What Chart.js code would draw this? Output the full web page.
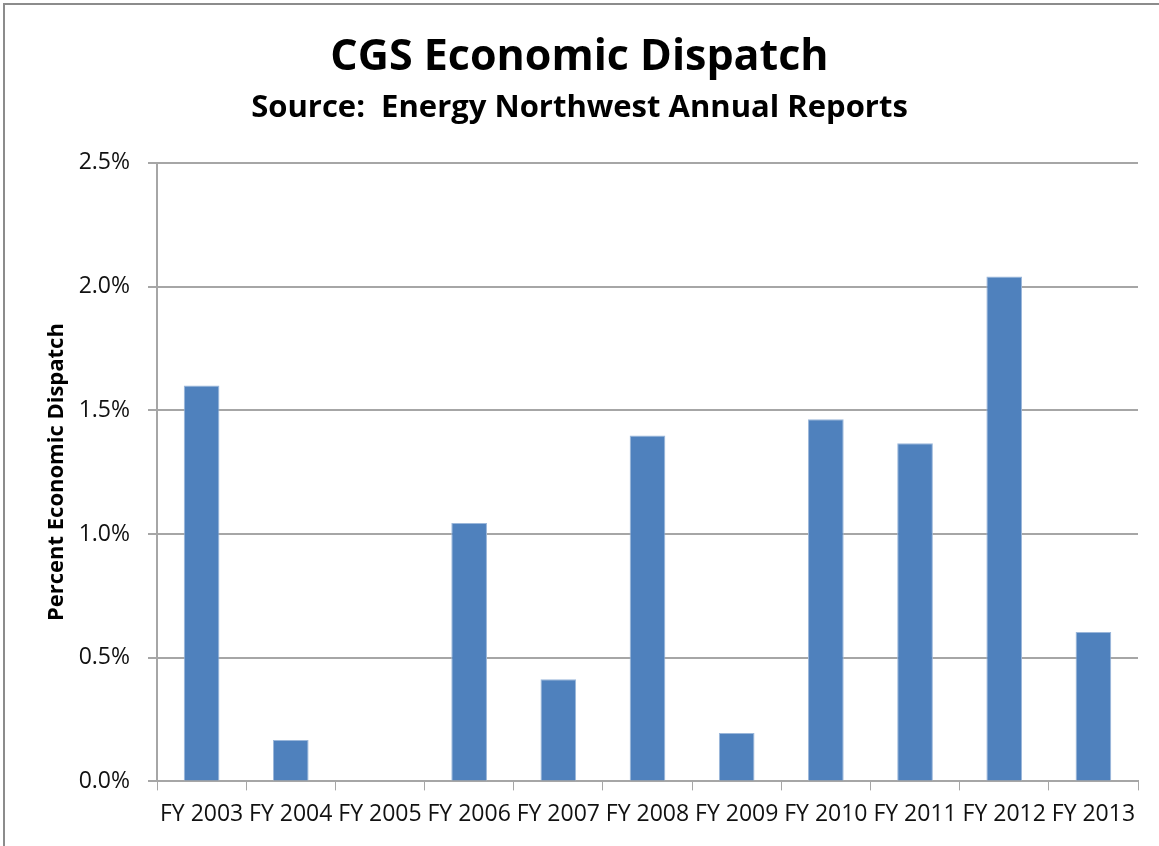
<!DOCTYPE html>
<html>
<head>
<meta charset="utf-8">
<script src="https://cdn.jsdelivr.net/npm/chart.js@4"></script>
<style>
  html, body { margin: 0; padding: 0; background: #fff; overflow: hidden; }
  #wrap { width: 1159px; height: 846px; }
</style>
</head>
<body>
<div id="wrap"><canvas id="dispatch"></canvas></div>
<script>
const years = ['FY 2003', 'FY 2004', 'FY 2005', 'FY 2006', 'FY 2007', 'FY 2008',
               'FY 2009', 'FY 2010', 'FY 2011', 'FY 2012', 'FY 2013'];
const dispatchPct = [1.60, 0.167, 0, 1.044, 0.413, 1.398, 0.196, 1.464, 1.367, 2.04, 0.604];
const yTicks = [0, 0.5, 1.0, 1.5, 2.0, 2.5];

const font = "'Open Sans', 'DejaVu Sans', sans-serif";
const gridGray = '#a6a6a6';

// grey frame round the whole chart (top and left edges show)
const frame = {
    id: 'frame',
    beforeDraw(chart) {
        const ctx = chart.ctx;
        ctx.save();
        ctx.fillStyle = '#fff';
        ctx.fillRect(0, 0, chart.width, chart.height);
        ctx.strokeStyle = '#8c8c8c';
        ctx.lineWidth = 2;
        ctx.strokeRect(4, 4, chart.width + 20, chart.height + 20);
        ctx.restore();
    }
};

const ctx = document.getElementById('dispatch');

new Chart(ctx, {
    type: 'bar',
    data: {
        labels: years,
        datasets: [{
            label: 'Percent Economic Dispatch',
            data: dispatchPct,
            backgroundColor: '#4f81bd',
            borderColor: '#9bb7da',
            borderWidth: 1,
            categoryPercentage: 1,
            barPercentage: 0.4
        }]
    },
    options: {
        responsive: true,
        maintainAspectRatio: false,
        animation: false,
        layout: { padding: { top: 4, left: 21, right: 21, bottom: 8 } },
        plugins: {
            legend: { display: false },
            tooltip: { enabled: false },
            title: {
                display: true,
                text: 'CGS Economic Dispatch',
                color: '#000',
                font: { family: font, size: 43, weight: 'bold' },
                padding: { top: 28, bottom: 3 }
            },
            subtitle: {
                display: true,
                text: 'Source:  Energy Northwest Annual Reports',
                color: '#000',
                font: { family: font, size: 31, weight: 'bold' },
                padding: { top: 3, bottom: 36 }
            }
        },
        scales: {
            x: {
                grid: {
                    drawOnChartArea: false,
                    drawTicks: true,
                    tickLength: 9,
                    color: gridGray,
                    offset: true
                },
                border: { color: gridGray, width: 2 },
                ticks: {
                    color: '#111',
                    font: { family: font, size: 23 },
                    padding: 10,
                    maxRotation: 0,
                    autoSkip: false
                }
            },
            y: {
                min: 0,
                max: 2.5,
                afterBuildTicks: axis => { axis.ticks = yTicks.map(v => ({ value: v })); },
                afterFit: axis => { axis.width = 136; },
                grid: { color: gridGray, lineWidth: 2, tickLength: 9 },
                border: { color: gridGray, width: 2 },
                ticks: {
                    color: '#111',
                    font: { family: font, size: 23 },
                    padding: 18,
                    callback: v => v.toFixed(1) + '%'
                },
                title: {
                    display: true,
                    text: 'Percent Economic Dispatch',
                    color: '#000',
                    font: { family: font, size: 22, weight: 'bold' },
                    padding: { top: 23, bottom: 0 }
                }
            }
        }
    },
    plugins: [frame]
});
</script>
</body>
</html>
